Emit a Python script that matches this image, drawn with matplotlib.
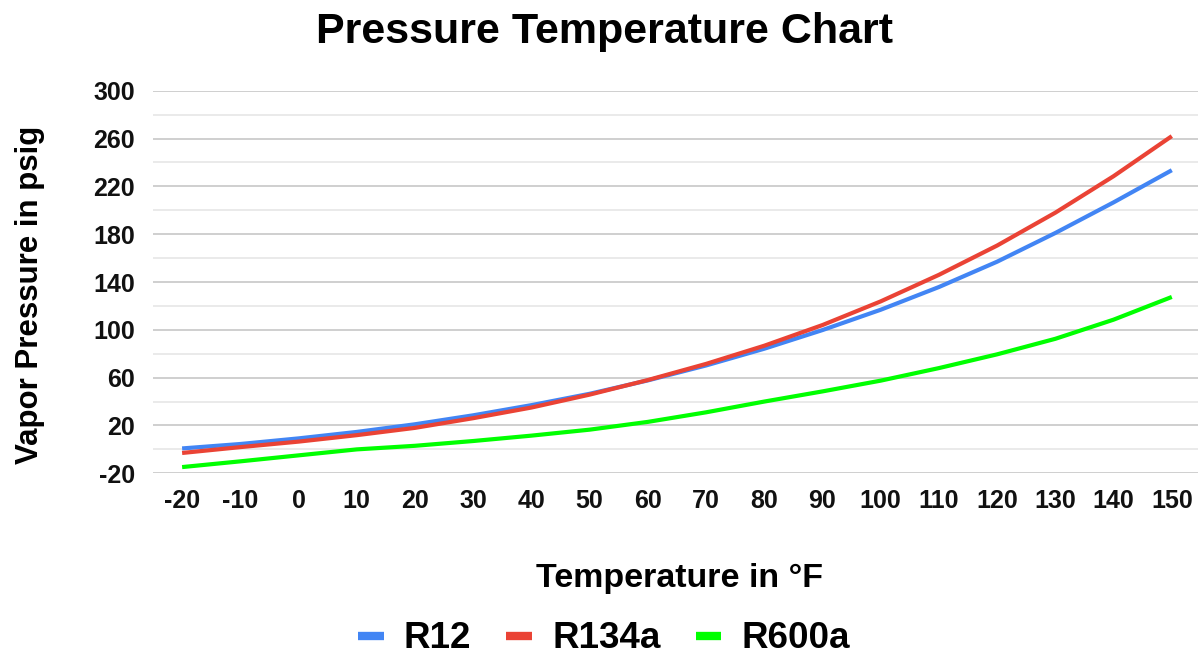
import matplotlib
matplotlib.use("Agg")
import matplotlib.pyplot as plt

plt.rcParams['font.family'] = ['Liberation Sans', 'DejaVu Sans']
plt.rcParams['font.weight'] = 'bold'
plt.rcParams['axes.unicode_minus'] = False

# Temperature in F and vapor pressure in psig
temps = [-20, -10, 0, 10, 20, 30, 40, 50, 60, 70, 80, 90, 100, 110, 120, 130, 140, 150]
r12 = [0.8, 4.5, 9.2, 14.6, 21.0, 28.5, 37.0, 46.5, 57.7, 70.2, 84.2, 99.8, 116.8, 135.8, 157.0, 181.0, 206.6, 233.5]
r134a = [-3.0, 1.9, 6.5, 11.9, 18.0, 26.1, 35.0, 45.8, 58.0, 71.5, 86.7, 104.0, 123.8, 146.0, 170.5, 198.0, 228.5, 262.0]
r600a = [-14.8, -10.0, -5.0, 0.0, 3.0, 7.0, 11.5, 16.5, 23.0, 31.0, 40.0, 48.5, 57.5, 68.0, 79.5, 92.5, 108.5, 127.5]

series = [("R12", r12, "#4285F4"), ("R134a", r134a, "#EA4335"), ("R600a", r600a, "#00FF00")]

yticks = [-20, 20, 60, 100, 140, 180, 220, 260, 300]
yminor = [0, 40, 80, 120, 160, 200, 240, 280]

fig = plt.figure(figsize=(11.98, 6.55), dpi=100)
ax = fig.add_axes([153 / 1198, 1 - 473.3 / 655, 1 - 153 / 1198, (473.3 - 90.7) / 655])

for name, vals, color in series:
    ax.plot(temps, vals, color=color, lw=3, label=name, solid_capstyle='butt', zorder=3)

ax.set_xlim(-25, 154.5)
ax.set_ylim(-20, 300)
ax.set_xticks(temps)
ax.set_xticklabels([str(t) for t in temps])
ax.set_yticks(yticks)
ax.set_yticks(yminor, minor=True)
ax.grid(True, axis='y', which='major', color='#cccccc', lw=1.3, zorder=0)
ax.grid(True, axis='y', which='minor', color='#e8e8e8', lw=1.3, zorder=0)
ax.tick_params(axis='both', which='both', length=0, labelsize=18, colors='#111111')
ax.tick_params(axis='y', pad=13)
ax.tick_params(axis='x', pad=11)
for sp in ax.spines.values():
    sp.set_visible(False)

fig.text(604 / 1198, 1 - 32 / 655, "Pressure Temperature Chart", ha='center', va='center',
         fontsize=31, fontweight='bold')
fig.text(680 / 1198, 1 - 578 / 655, "Temperature in °F", ha='center', va='center',
         fontsize=24.5, fontweight='bold')
fig.text(30 / 1198, 1 - 295 / 655, "Vapor Pressure in psig", ha='center', va='center',
         rotation=90, fontsize=22.5, fontweight='bold')

leg = fig.legend(loc='center', bbox_to_anchor=(604 / 1198, 1 - 639 / 655), ncol=3,
                 frameon=False, fontsize=26.5, handlelength=0.7, handletextpad=0.55,
                 columnspacing=0.95)
for line in leg.get_lines():
    line.set_linewidth(6)

fig.savefig("out.png", dpi=100)
